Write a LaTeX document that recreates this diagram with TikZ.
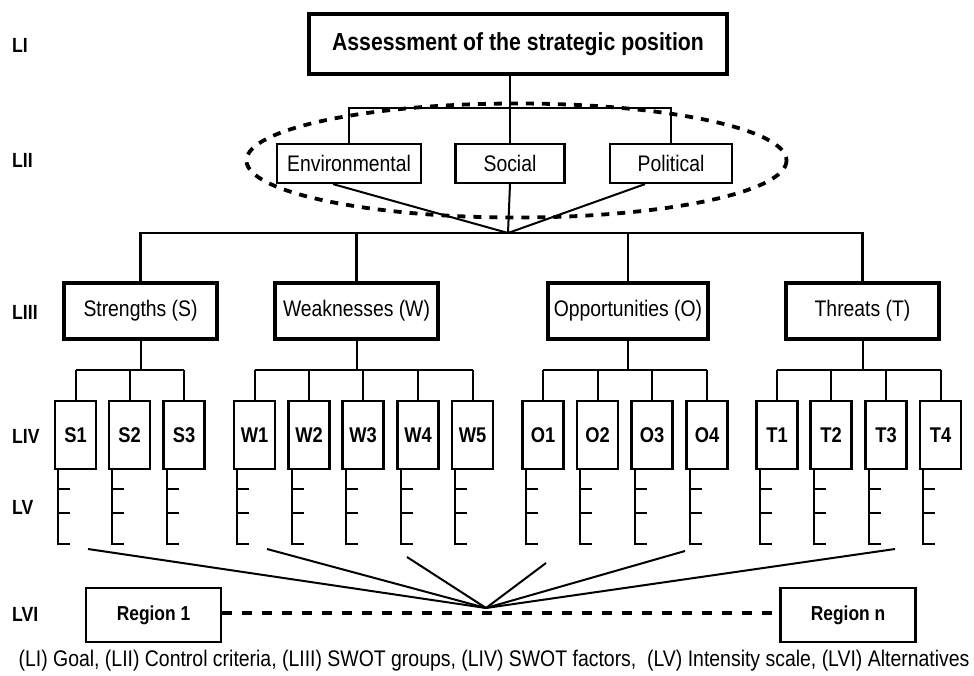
\documentclass[tikz,border=0pt]{standalone}
\usepackage{fontspec}
\setmainfont{Liberation Sans}[FakeStretch=0.86]
\begin{document}
\begin{tikzpicture}[x=1pt,y=-1pt,
  thinbox/.style={draw,line width=2.2pt,inner sep=0pt,font=\fontsize{22.5}{24}\selectfont},
  thickbox/.style={draw,line width=3.2pt,inner sep=0pt,font=\fontsize{22.5}{24}\selectfont},
  factor/.style={draw,line width=2.2pt,inner sep=0pt,minimum width=41pt,minimum height=68pt,font=\bfseries\fontsize{21.3}{23}\selectfont},
  region/.style={draw,line width=2.2pt,inner sep=0pt,minimum width=135pt,minimum height=54pt,font=\bfseries\fontsize{20.2}{22}\selectfont},
  lvl/.style={anchor=west,inner sep=0pt,font=\bfseries\fontsize{20.5}{22}\selectfont},
  conn/.style={line width=2pt},
  dashln/.style={line width=3.8pt,dash pattern=on 8pt off 8pt}]
\useasboundingbox (0,0) rectangle (974,675);

% level labels
\node[lvl] (l1) at (12,45) {LI};
\node[lvl] (l2) at (12,160) {LII};
\node[lvl] (l3) at (12,312) {LIII};
\node[lvl] (l4) at (12,436) {LIV};
\node[lvl] (l5) at (12,507) {LV};
\node[lvl] (l6) at (12,614) {LVI};

% goal
\node[thickbox,minimum width=418pt,minimum height=60pt,font=\bfseries\fontsize{24.7}{26}\selectfont] (goal) at (518,44) {Assessment of the strategic position};

% control criteria
\node[thinbox,minimum width=144pt,minimum height=39pt] (env) at (349,163.5) {Environmental};
\node[thinbox,minimum width=109pt,minimum height=39pt] (soc) at (510,163.5) {Social};
\node[thinbox,minimum width=122pt,minimum height=39pt] (pol) at (671,163.5) {Political};
\draw[dashln] (516.5,160.5) ellipse [x radius=270, y radius=57];

\coordinate (b1) at (510,108);
\draw[conn] ([xshift=-8pt]goal.south) -- (soc.north);
\draw[conn] (env.north) -- (env.north |- b1) -- (pol.north |- b1) -- (pol.north);

% SWOT groups
\node[thickbox,minimum width=153pt,minimum height=56pt] (S) at (140.5,311) {Strengths (S)};
\node[thickbox,minimum width=163pt,minimum height=56pt] (W) at (356.5,311) {Weaknesses (W)};
\node[thickbox,minimum width=160pt,minimum height=56pt] (O) at (628,311) {Opportunities (O)};
\node[thickbox,minimum width=153pt,minimum height=56pt] (T) at (862.5,311) {Threats (T)};

\coordinate (hub) at (508,233);
\draw[conn] ([xshift=-16pt]env.south) -- (hub);
\draw[conn] (soc.south) -- (hub);
\draw[conn] ([xshift=-26pt]pol.south) -- (hub);
\draw[line width=2.6pt] (S.north) -- (S.north |- hub) -- (T.north |- hub) -- (T.north);
\draw[line width=2.6pt] (W.north) -- (W.north |- hub);
\draw[line width=2.6pt] (O.north) -- (O.north |- hub);

% SWOT factors with intensity scales
\foreach \n/\x/\g in {S1/75.5/S,S2/129.5/S,S3/184/S,W1/254.5/W,W2/309/W,W3/363/W,W4/418/W,W5/472.5/W,O1/543/O,O2/597.5/O,O3/652/O,O4/707/O,T1/777/T,T2/831/T,T3/886/T,T4/940.5/T}{
  \node[factor] (\n) at (\x,435) {\n};
  \coordinate (\n top) at (\x,370);
  \draw[conn] (\n.north) -- (\n top);
  \draw[conn] ([xshift=4.5pt]\n.south west) -- ++(0,74) -- ++(12,0);
  \draw[conn] ([xshift=4.5pt,yshift=-19pt]\n.south west) -- ++(12,0);
  \draw[conn] ([xshift=4.5pt,yshift=-43pt]\n.south west) -- ++(12,0);
}
\draw[conn] (S1top) -- (S3top); \draw[conn] (S.south) -- (S.south |- S1top);
\draw[conn] (W1top) -- (W5top); \draw[conn] (W.south) -- (W.south |- W1top);
\draw[conn] (O1top) -- (O4top); \draw[conn] (O.south) -- (O.south |- O1top);
\draw[conn] (T1top) -- (T4top); \draw[conn] (T.south) -- (T.south |- T1top);

% alternatives
\node[region] (r1) at (153.5,615) {Region 1};
\node[region] (rn) at (848,615) {Region n};
\draw[dashln,dash pattern=on 10pt off 10pt] ([yshift=2pt]r1.east) -- ([yshift=2pt]rn.west);
\coordinate (hub2) at (486,608);
\coordinate (e1) at (88,549);
\coordinate (e2) at (267,549);
\coordinate (e3) at (407,557);
\coordinate (e4) at (546,563);
\coordinate (e5) at (685,551);
\coordinate (e6) at (895,549);
\foreach \e in {e1,e2,e3,e4,e5,e6}{\draw[conn] (\e) -- (hub2);}

% caption
\node[inner sep=0pt,font=\fontsize{22.6}{24}\selectfont] (cap) at (494,661) {(LI) Goal, (LII) Control criteria, (LIII) SWOT groups, (LIV) SWOT factors,\ \ (LV) Intensity scale, (LVI) Alternatives};
\end{tikzpicture}
\end{document}
